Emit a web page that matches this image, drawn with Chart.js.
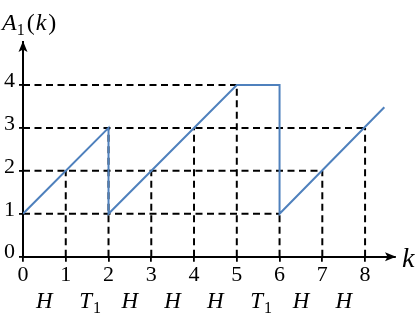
<!DOCTYPE html>
<html><head><meta charset="utf-8">
<script src="https://cdn.jsdelivr.net/npm/chart.js@4"></script>
<style>html,body{margin:0;padding:0;background:#fff;overflow:hidden}</style>
</head><body>
<canvas id="c" width="415" height="323" style="width:415px;height:323px"></canvas>
<script>
// ---- data ----
const xTicks = [0, 1, 2, 3, 4, 5, 6, 7, 8];
const yTicks = [0, 1, 2, 3, 4];
const stepLabels = ['H', 'T1', 'H', 'H', 'H', 'T1', 'H', 'H'];
const curveX = [0, 2, 2, 5, 6, 6, 8.45];
const curveY = [1, 3, 1, 4, 4, 1, 3.48];
const hLevels = [1, 2, 3, 4];
const hEnds = [6, 7, 8, 5];
const vSteps = [1, 2, 3, 4, 5, 6, 7, 8];
const vTops = [2, 3, 2, 3, 4, 1, 2, 3];
const xMax = 8.7, yMax = 5.0;

// ---- build datasets ----
const curve = curveX.map((x, i) => ({x, y: curveY[i]}));
const hDash = [];
hLevels.forEach((l, i) => { hDash.push({x: 0, y: l}, {x: hEnds[i], y: l}, {x: hEnds[i], y: null}); });
const vDash = [];
vSteps.forEach((v, i) => { vDash.push({x: v, y: 0}, {x: v, y: vTops[i]}, {x: v, y: null}); });

const SERIF = "Liberation Serif, DejaVu Serif, serif";

const decor = {
  id: 'decor',
  afterDraw(chart) {
    const ctx = chart.ctx, xs = chart.scales.x, ys = chart.scales.y;
    ctx.save();
    ctx.fillStyle = '#000';
    const x0 = xs.getPixelForValue(0), y0 = ys.getPixelForValue(0);
    const xt = xs.getPixelForValue(xMax), yt = ys.getPixelForValue(yMax);
    ctx.beginPath();
    ctx.moveTo(xt + 1, y0); ctx.lineTo(xt - 10, y0 - 4.5); ctx.lineTo(xt - 7.5, y0); ctx.lineTo(xt - 10, y0 + 4.5); ctx.closePath(); ctx.fill();
    ctx.beginPath();
    ctx.moveTo(x0, yt - 1); ctx.lineTo(x0 - 4.5, yt + 10); ctx.lineTo(x0, yt + 7.5); ctx.lineTo(x0 + 4.5, yt + 10); ctx.closePath(); ctx.fill();

    ctx.textBaseline = 'alphabetic';
    ctx.textAlign = 'left';
    ctx.font = 'italic 28px ' + SERIF;
    ctx.fillText('k', xt + 7, y0 + 10);

    let x = 2; const by = 30;
    ctx.font = 'italic 24px ' + SERIF; ctx.fillText('A', x, by); x += ctx.measureText('A').width;
    ctx.font = '16px ' + SERIF; ctx.fillText('1', x, by + 5); x += ctx.measureText('1').width + 2;
    ctx.font = '24px ' + SERIF; ctx.fillText('(', x, by); x += ctx.measureText('(').width + 1;
    ctx.font = 'italic 24px ' + SERIF; ctx.fillText('k', x, by); x += ctx.measureText('k').width + 2;
    ctx.font = '24px ' + SERIF; ctx.fillText(')', x, by);

    const ly = 308;
    stepLabels.forEach((lab, i) => {
      const cx = xs.getPixelForValue(i + 0.5);
      const main = lab[0], sub = lab.slice(1);
      ctx.font = 'italic 23px ' + SERIF;
      const wm = ctx.measureText(main).width;
      ctx.font = '16px ' + SERIF;
      const ws = sub ? ctx.measureText(sub).width + 1 : 0;
      let sx = cx - (wm + ws) / 2 + (sub ? 3 : 0);
      ctx.font = 'italic 23px ' + SERIF;
      ctx.fillText(main, sx, ly);
      if (sub) { ctx.font = '16px ' + SERIF; ctx.fillText(sub, sx + wm + 1, ly + 5); }
    });
    ctx.restore();
  }
};

new Chart(document.getElementById('c'), {
  type: 'scatter',
  data: {
    datasets: [
      {data: curve, showLine: true, borderColor: '#4F81BD', borderWidth: 2, pointRadius: 0, order: 0},
      {data: hDash, showLine: true, borderColor: '#000', borderWidth: 2, borderDash: [7, 4.5], pointRadius: 0, spanGaps: false, order: 1},
      {data: vDash, showLine: true, borderColor: '#000', borderWidth: 2, borderDash: [7, 4.5], pointRadius: 0, spanGaps: false, order: 1}
    ]
  },
  options: {
    responsive: false,
    animation: false,
    events: [],
    layout: {padding: {top: 42, right: 20, left: 0, bottom: 0}},
    plugins: {legend: {display: false}, tooltip: {enabled: false}},
    scales: {
      x: {
        type: 'linear', min: 0, max: xMax,
        afterBuildTicks: s => { s.ticks = xTicks.map(v => ({value: v})); },
        afterFit: s => { s.height = 66.3; },
        grid: {drawOnChartArea: false, drawTicks: true, tickLength: 5, color: '#000', lineWidth: 1.8},
        border: {display: true, color: '#000', width: 2},
        ticks: {color: '#000', font: {family: SERIF, size: 22}, padding: 0, maxRotation: 0, autoSkip: false}
      },
      y: {
        type: 'linear', min: 0, max: yMax,
        afterBuildTicks: s => { s.ticks = yTicks.map(v => ({value: v})); },
        afterFit: s => { s.width = 23; },
        grid: {drawOnChartArea: false, drawTicks: true, tickLength: 4, color: '#000', lineWidth: 1.8},
        border: {display: true, color: '#000', width: 2},
        ticks: {color: '#000', font: {family: SERIF, size: 22}, padding: 4, labelOffset: -4, autoSkip: false}
      }
    }
  },
  plugins: [decor]
});
</script>
</body></html>
